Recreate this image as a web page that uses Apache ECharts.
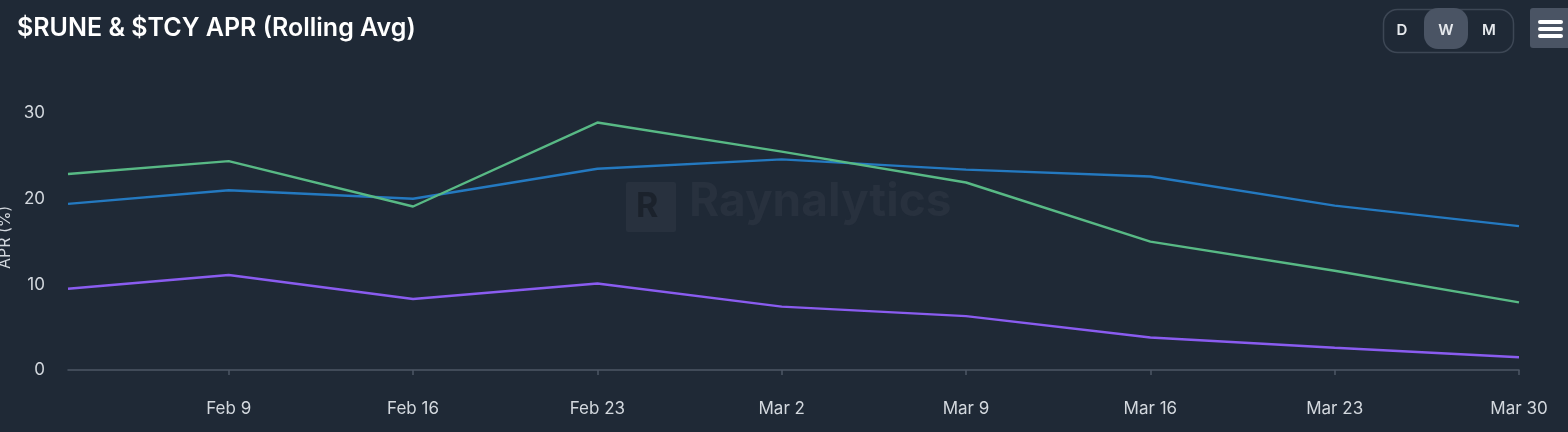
<!DOCTYPE html>
<html>
<head>
<meta charset="utf-8">
<script src="https://cdn.jsdelivr.net/npm/echarts@6/dist/echarts.min.js"></script>
<style>
  html, body { margin: 0; padding: 0; background: #1f2936; }
  #main { width: 1568px; height: 432px; }
</style>
</head>
<body>
<div id="main"></div>
<script>
// weekly rolling averages (APR %)
const dates = ['2025-02-02T21:30', '2025-02-09T00:00', '2025-02-16T00:00', '2025-02-23T00:00', '2025-03-02T00:00',
               '2025-03-09T00:00', '2025-03-16T00:00', '2025-03-23T00:00', '2025-03-30T00:00'];
const greenApr = [22.9, 24.4, 19.1, 28.9, 25.5, 21.9, 15.0, 11.6, 7.9];
const blueApr = [19.4, 21.0, 20.0, 23.5, 24.6, 23.4, 22.6, 19.2, 16.8];
const purpleApr = [9.5, 11.1, 8.3, 10.1, 7.4, 6.3, 3.8, 2.6, 1.5];
const xTicks = ['2025-02-09T00:00', '2025-02-16T00:00', '2025-02-23T00:00', '2025-03-02T00:00',
                '2025-03-09T00:00', '2025-03-16T00:00', '2025-03-23T00:00', '2025-03-30T00:00'];
const yTicks = [0, 10, 20, 30];

const ts = d => new Date(d).getTime();
const pair = vals => dates.map((d, i) => [ts(d), vals[i]]);
const months = ['Jan', 'Feb', 'Mar', 'Apr', 'May', 'Jun', 'Jul', 'Aug', 'Sep', 'Oct', 'Nov', 'Dec'];

const chart = echarts.init(document.getElementById('main'));
const font = 'Inter, "Noto Sans", sans-serif';
const labelColor = '#d3d8de';

const option = {
  backgroundColor: '#1f2936',
  animation: false,
  title: {
    text: '$RUNE & $TCY APR (Rolling Avg)',
    left: 12,
    top: 11,
    textStyle: { color: '#ffffff', fontSize: 25, fontWeight: 600, fontFamily: font }
  },
  grid: { left: 68, right: 49, top: 96, bottom: 53.4, outerBoundsMode: 'none' },
  xAxis: {
    type: 'value',
    min: ts(dates[0]),
    max: ts(dates[dates.length - 1]),
    axisLine: { lineStyle: { color: '#4d5766', width: 1.5 } },
    axisTick: {
      show: true,
      length: 5,
      customValues: xTicks.map(ts),
      lineStyle: { color: '#4d5766', width: 1.5 }
    },
    splitLine: { show: false },
    axisLabel: {
      customValues: xTicks.map(ts),
      color: labelColor,
      fontSize: 17,
      fontFamily: font,
      margin: 22,
      formatter: v => {
        const d = new Date(v);
        return months[d.getMonth()] + ' ' + d.getDate();
      }
    }
  },
  yAxis: {
    type: 'value',
    min: -1,
    max: 32,
    name: 'APR (%)',
    nameLocation: 'middle',
    nameGap: 47,
    nameRotate: 90,
    nameTextStyle: { color: labelColor, fontSize: 16, fontFamily: font },
    axisLine: { show: false },
    axisTick: { show: false },
    splitLine: { show: false },
    axisLabel: {
      customValues: yTicks,
      color: labelColor,
      fontSize: 17,
      fontFamily: font,
      margin: 23
    }
  },
  graphic: [
    // watermark
    { type: 'rect', left: 626, top: 182, shape: { width: 50, height: 50, r: 2 }, style: { fill: '#28313e' }, z: 0 },
    { type: 'text', left: 636, top: 190, style: { text: 'R', fill: '#1b222c', font: 'bold 34px ' + font }, z: 0 },
    { type: 'text', left: 689, top: 179, style: { text: 'Raynalytics', fill: '#28313e', font: 'bold 46px ' + font }, z: 0 },
    // D W M switch
    { type: 'rect', left: 1381, top: 7, shape: { width: 130, height: 43, r: 14 }, style: { fill: 'none', stroke: '#3d4755', lineWidth: 1.5 } },
    { type: 'rect', left: 1424, top: 8, shape: { width: 44, height: 41, r: 14 }, style: { fill: '#4a5464' } },
    { type: 'text', x: 1402, y: 30, style: { text: 'D', fill: '#e6e9ed', font: '600 15px ' + font, align: 'center', verticalAlign: 'middle' } },
    { type: 'text', x: 1446, y: 30, style: { text: 'W', fill: '#e6e9ed', font: '600 15px ' + font, align: 'center', verticalAlign: 'middle' } },
    { type: 'text', x: 1489, y: 30, style: { text: 'M', fill: '#e6e9ed', font: '600 15px ' + font, align: 'center', verticalAlign: 'middle' } },
    // menu button
    { type: 'rect', left: 1530, top: 8, shape: { width: 44, height: 40, r: 3 }, style: { fill: '#4a5464' } },
    { type: 'rect', left: 1538, top: 20, shape: { width: 25, height: 4, r: 2 }, style: { fill: '#ffffff' } },
    { type: 'rect', left: 1538, top: 27, shape: { width: 25, height: 4, r: 2 }, style: { fill: '#ffffff' } },
    { type: 'rect', left: 1538, top: 34, shape: { width: 25, height: 4, r: 2 }, style: { fill: '#ffffff' } }
  ],
  series: [
    {
      name: 'Green', type: 'line', data: pair(greenApr), showSymbol: false,
      lineStyle: { color: '#58b985', width: 2.4 }, itemStyle: { color: '#58b985' }, z: 3
    },
    {
      name: 'Blue', type: 'line', data: pair(blueApr), showSymbol: false,
      lineStyle: { color: '#2479c0', width: 2.4 }, itemStyle: { color: '#2479c0' }, z: 2
    },
    {
      name: 'Purple', type: 'line', data: pair(purpleApr), showSymbol: false,
      lineStyle: { color: '#8a5cf0', width: 2.4 }, itemStyle: { color: '#8a5cf0' }, z: 2
    }
  ]
};

chart.setOption(option);
window.addEventListener('resize', () => chart.resize());
</script>
</body>
</html>
